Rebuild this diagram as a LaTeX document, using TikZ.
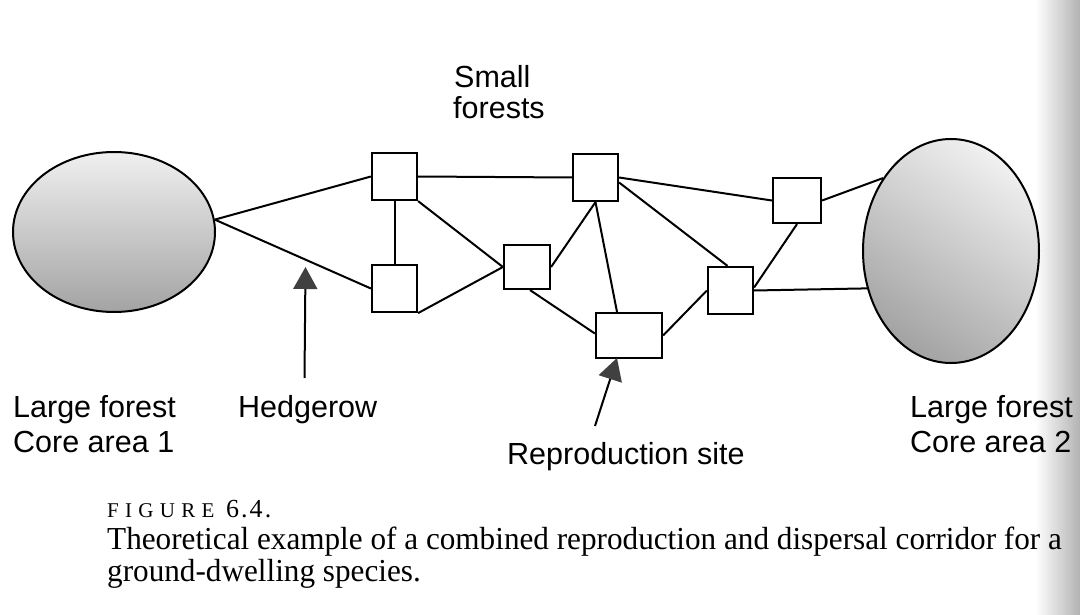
\documentclass[tikz,border=0pt]{standalone}
\usepackage{fontspec}
\setmainfont{Liberation Serif}
\newfontfamily\lblfont{Liberation Sans}
\newfontfamily\capsfont[LetterSpace=30]{Liberation Serif}
\newfontfamily\numfont[LetterSpace=8]{Liberation Serif}
\newfontfamily\bodyfont[FakeStretch=0.975]{Liberation Serif}
\usetikzlibrary{shapes.geometric,arrows.meta}
\tikzset{
  box/.style={draw, line width=2.2pt, fill=white, inner sep=0pt, minimum width=45pt, minimum height=47pt},
  link/.style={line width=2pt},
  forest/.style={ellipse, draw, line width=2pt, inner sep=0pt},
  lbl/.style={font=\lblfont\fontsize{30.5}{32}\selectfont, inner sep=0pt, anchor=base west},
  captext/.style={font=\bodyfont\fontsize{32}{34}\selectfont, inner sep=0pt, anchor=base west},
  pointer/.style={line width=2pt, -{Triangle[width=24pt,length=22pt,color=black!75]}}
}
\begin{document}
\begin{tikzpicture}[x=1pt,y=-1pt]
\useasboundingbox (0,0) rectangle (1080,615);
\fill[white] (0,0) rectangle (1080,615);
\shade[left color=white, right color=black!30] (1035,0) rectangle (1080,615);

% core areas
\node[forest, minimum width=202pt, minimum height=160pt, top color=black!6, bottom color=black!36] (e1) at (114,232) {};
\node[forest, minimum width=176pt, minimum height=224pt, top color=black!6, bottom color=black!36, shading angle=-35] (e2) at (951,251) {};

% small forests
\node[box] (b1) at (394.5,176.5) {};
\node[box] (b2) at (394.5,288.5) {};
\node[box, minimum width=46pt, minimum height=44pt] (b3) at (527,267) {};
\node[box] (b4) at (595.5,177.5) {};
\node[box, minimum width=66pt, minimum height=45pt] (b5) at (629,335.5) {};
\node[box, minimum width=48pt, minimum height=45pt] (b6) at (797,200.5) {};
\node[box, minimum height=47pt] (b7) at (730.5,290.5) {};

% hedgerows
\draw[link] (e1.7) -- (b1.west);
\draw[link] (e1.7) -- (b2.west);
\draw[link] (b1.east) -- (b4.west);
\draw[link] (b1.south) -- (b2.north);
\draw[link] (b1.south east) -- (b3.west);
\draw[link] (b2.south east) -- (b3.west);
\draw[link] (b3.east) -- (b4.south);
\draw[link] (b4.south) -- ([xshift=-12pt]b5.north);
\draw[link] ([xshift=3pt]b3.south) -- ([yshift=2pt]b5.west);
\draw[link] (b4.east) -- (b6.west);
\draw[link] ([yshift=-5pt]b4.east) -- ([xshift=-3pt]b7.north);
\draw[link] (b5.east) -- (b7.west);
\draw[link] (b6.south) -- ([yshift=3pt]b7.east);
\draw[link] (b6.east) -- (e2.133);
\draw[link] (b7.east) -- (e2.204);

% pointers
\coordinate (h1) at (304.5,378);
\coordinate (h2) at (305.5,267);
\draw[pointer] (h1) -- (h2);
\coordinate (r1) at (595,426);
\coordinate (r2) at (617,358);
\draw[pointer] (r1) -- (r2);

% labels
\node[lbl] (sf1) at (454,88) {Small};
\node[lbl] (sf2) at (453,119) {forests};
\node[lbl] (lf1) at (13,417) {Large forest};
\node[lbl] (lf2) at (13,452) {Core area 1};
\node[lbl] (hg) at (238,417) {Hedgerow};
\node[lbl] (rs) at (507,464) {Reproduction site};
\node[lbl] (rf1) at (910,417) {Large forest};
\node[lbl] (rf2) at (910,452) {Core area 2};

% caption
\node[captext, font=\capsfont\fontsize{21}{22}\selectfont] (fig) at (107,517) {FIGURE {\numfont\fontsize{26}{28}\selectfont 6.4.}};
\node[captext] (c1) at (107,549) {Theoretical example of a combined reproduction and dispersal corridor for a};
\node[captext] (c2) at (107,581) {ground-dwelling species.};
\end{tikzpicture}
\end{document}
